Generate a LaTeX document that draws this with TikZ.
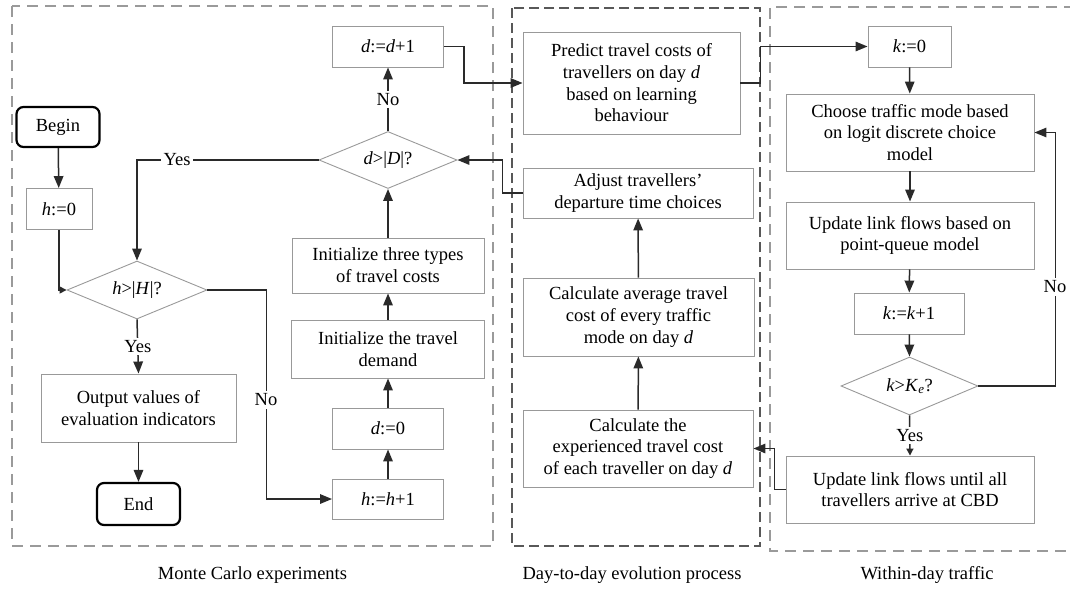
\documentclass[tikz,border=0pt]{standalone}
\usepackage{fontspec}
\setmainfont{Liberation Serif}
\usetikzlibrary{arrows.meta,shapes.geometric}
\definecolor{boxgray}{HTML}{999999}
\definecolor{framelight}{HTML}{9A9A9A}
\definecolor{framedark}{HTML}{585858}
\definecolor{linecol}{HTML}{2A2A2A}
\begin{document}
\begin{tikzpicture}[x=1pt,y=-1pt,
  every node/.style={font=\fontsize{18.5}{21.7}\selectfont},
  box/.style={draw=boxgray, line width=0.9pt, align=center, inner sep=0pt},
  term/.style={draw=black, line width=2.2pt, rounded corners=7pt, align=center, inner sep=0pt},
  dia/.style={draw=boxgray, line width=0.9pt, diamond, shape aspect=2.4, inner sep=0pt, minimum width=138pt, minimum height=57pt},
  conn/.style={draw=linecol, line width=1.5pt, -{Triangle[length=12pt,width=9.5pt]}},
  smalltip/.style={-{Triangle[length=7pt,width=7pt]}},
  lab/.style={fill=white, inner sep=2.5pt},
  framel/.style={draw=framelight, line width=1.6pt, dash pattern=on 11pt off 7pt},
  framed/.style={draw=framedark, line width=2pt, dash pattern=on 10pt off 5pt},
]
\useasboundingbox (0,0) rectangle (1070,589);
% frames
\draw[framel] (12,6) rectangle (493,546);
\draw[framed] (512,8) rectangle (760,546);
\draw[framel] (1075,7) -- (770,7) -- (770,551) -- (1075,551);
% Monte Carlo
\node[term, minimum width=83pt, minimum height=40pt] (begin) at (58,127) {Begin};
\node[box, minimum width=66pt, minimum height=41pt] (h0) at (59,209) {\textit{h}:=0};
\node[dia, minimum width=140pt, minimum height=58pt] (hH) at (137,290) {\textit{h}>|\textit{H}|?};
\node[box, minimum width=195pt, minimum height=68pt] (out) at (138.5,408) {Output values of\\evaluation indicators};
\node[term, minimum width=83pt, minimum height=42pt] (end) at (138.5,504) {End};
\node[box, minimum width=111pt, minimum height=41pt] (dd1) at (388,46.5) {\textit{d}:=\textit{d}+1};
\node[dia] (dD) at (388,160) {\textit{d}>|\textit{D}|?};
\node[box, minimum width=192pt, minimum height=55pt] (ithree) at (388,265.5) {Initialize three types\\of travel costs};
\node[box, minimum width=193pt, minimum height=58pt] (idem) at (388,349) {Initialize the travel\\demand};
\node[box, minimum width=111pt, minimum height=41pt] (d0) at (388,428.5) {\textit{d}:=0};
\node[box, minimum width=111pt, minimum height=40pt] (hh1) at (388,499) {\textit{h}:=\textit{h}+1};
% Day-to-day
\node[box, minimum width=217pt, minimum height=102pt] (pred) at (631.5,83) {Predict travel costs of\\travellers on day \textit{d}\\based on learning\\behaviour};
\node[box, minimum width=230pt, minimum height=50pt] (adj) at (638,193) {Adjust travellers'\\departure time choices};
\node[box, minimum width=231pt, minimum height=78pt] (cavg) at (638.5,317) {Calculate average travel\\cost of every traffic\\mode on day \textit{d}};
\node[box, minimum width=230pt, minimum height=77pt] (cexp) at (638,448.5) {Calculate the\\experienced travel cost\\of each traveller on day \textit{d}};
% Within-day
\node[box, minimum width=83pt, minimum height=41pt] (k0) at (909.5,46.5) {\textit{k}:=0};
\node[box, minimum width=248pt, minimum height=77pt] (choose) at (910,132.5) {Choose traffic mode based\\on logit discrete choice\\model};
\node[box, minimum width=248pt, minimum height=67pt] (upd1) at (910,235.5) {Update link flows based on\\point-queue model};
\node[box, minimum width=110pt, minimum height=41pt] (kk1) at (909,313.5) {\textit{k}:=\textit{k}+1};
\node[dia, minimum width=137pt, minimum height=58pt] (kK) at (909.5,386) {\textit{k}>\textit{K}\textsubscript{\textit{e}}?};
\node[box, minimum width=248pt, minimum height=67pt] (upd2) at (910,489.5) {Update link flows until all\\travellers arrive at CBD};
% captions
\node (capmc) at (252.5,575) {Monte Carlo experiments};
\node (capdd) at (632,575) {Day-to-day evolution process};
\node (capwd) at (927,575) {Within-day traffic};
% connectors
\draw[conn] (begin) -- (h0);
\draw[conn, smalltip] (h0.south) |- (hH.west);
\draw[conn] (dD.west) -| (hH.north);
\node[lab] (yes1) at (177,160) {Yes};
\draw[conn] (hH.south) -- node[lab] (yes2) {Yes} (out.north);
\draw[conn] (out) -- (end);
\draw[conn] (hH.east) -- ++(59,0) |- (hh1.west);
\node[lab] (no1) at (266,400) {No};
\draw[conn] (hh1) -- (d0);
\draw[conn] (d0) -- (idem);
\draw[conn] (idem) -- (ithree);
\draw[conn] (ithree) -- (dD.south);
\draw[conn] (dD.north) -- node[lab] (no2) {No} (dd1);
\draw[conn] (dd1.east) -- ++(20,0) |- (pred.west);
\draw[conn] (adj.west) -- ++(-20,0) |- (dD.east);
\draw[conn] (pred.east) -- ++(20,0) |- (k0.west);
\draw[conn] (k0) -- (choose);
\draw[conn] (choose) -- (upd1);
\draw[conn] (upd1) -- (kk1);
\draw[conn] (kk1) -- (kK.north);
\draw[conn] (kK.east) -- ++(77,0) |- (choose.east);
\node[lab] (no3) at (1055,287) {No};
\draw[conn, smalltip] (kK.south) -- node[lab] (yes3) {Yes} (upd2.north);
\draw[conn] (upd2.west) -- ++(-11,0) |- (cexp.east);
\draw[conn] (cexp) -- (cavg);
\draw[conn] (cavg) -- (adj);
\end{tikzpicture}
\end{document}
